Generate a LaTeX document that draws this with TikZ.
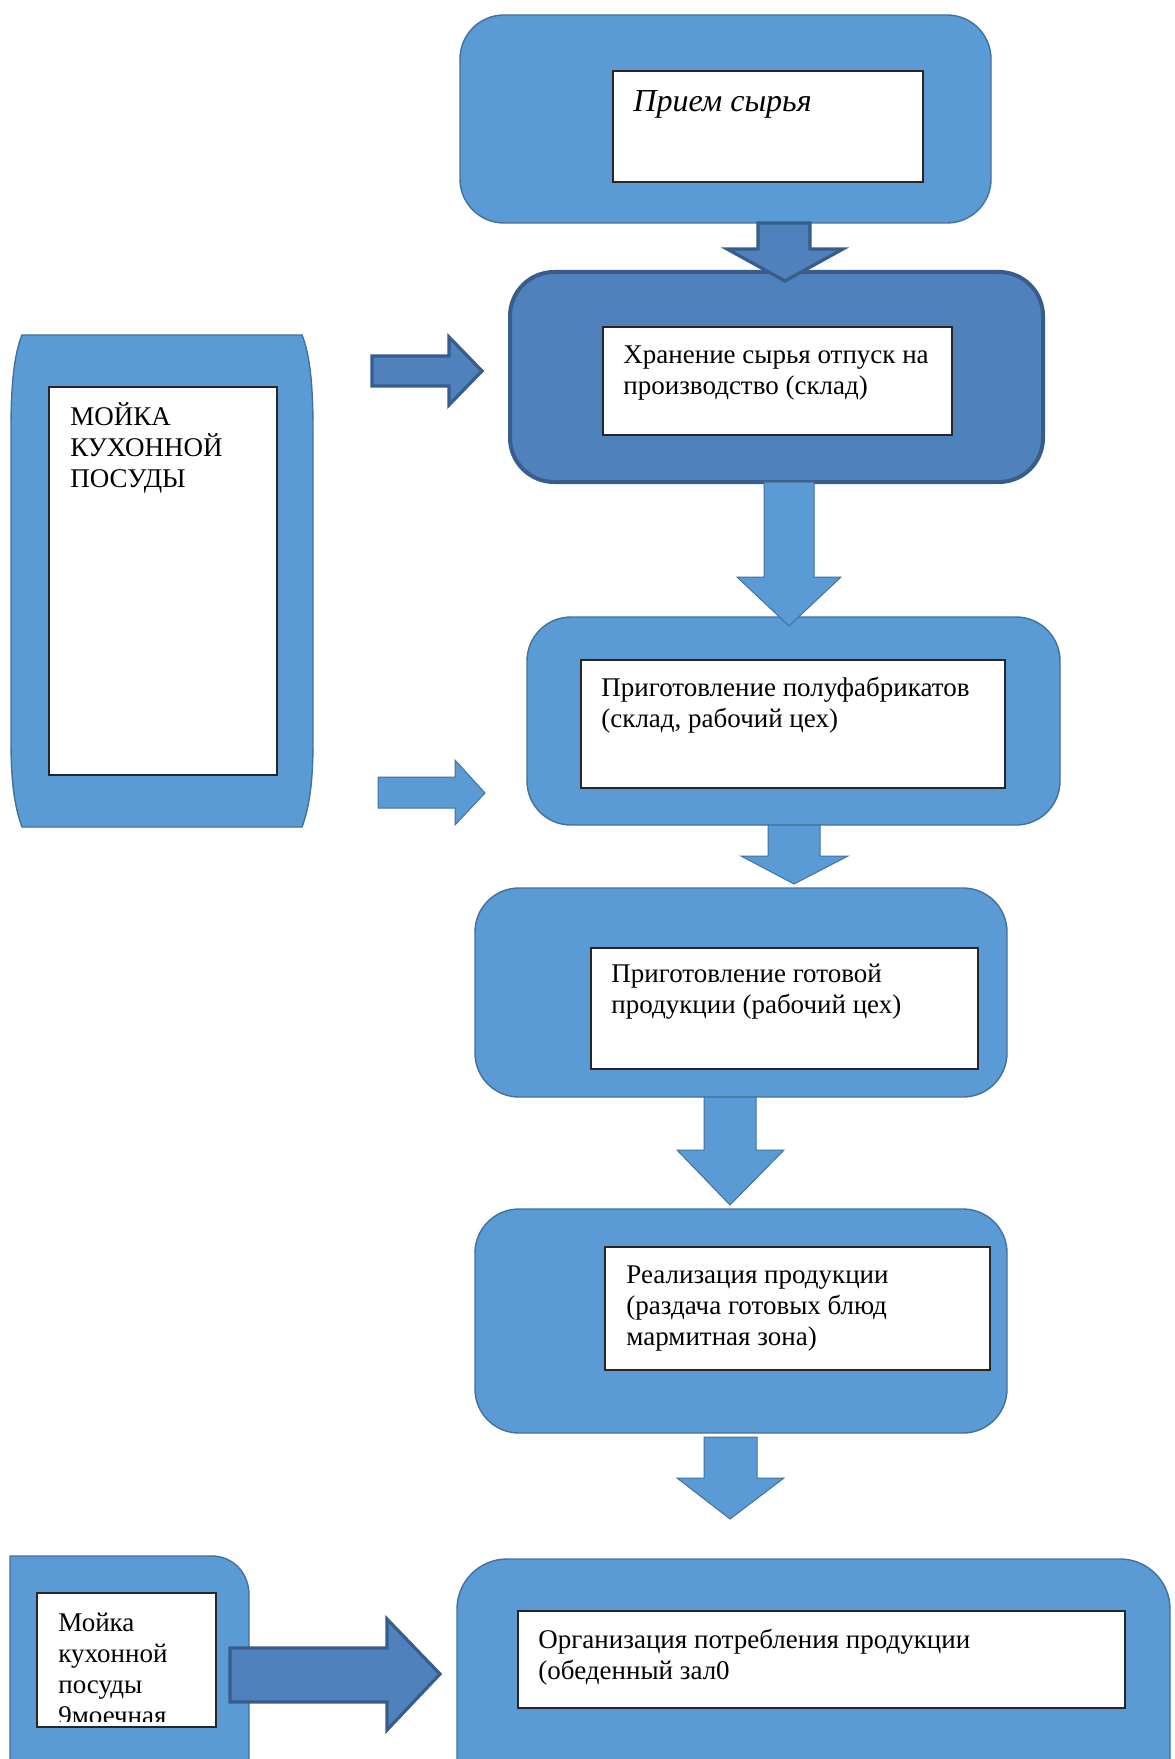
\documentclass[tikz,border=0pt]{standalone}
\usepackage{fontspec}
\setmainfont{Liberation Serif}
\usetikzlibrary{fit}
\definecolor{lb}{HTML}{5B9BD5}
\definecolor{lbd}{HTML}{41719C}
\definecolor{db}{HTML}{4F81BD}
\definecolor{dbd}{HTML}{385D8A}
\newcommand{\tl}{\rule{0pt}{10pt}}
\begin{document}
\begin{tikzpicture}[x=0.5pt,y=-0.5pt,
  lbox/.style={draw=lbd, line width=0.7pt, fill=lb, rounded corners=22pt, inner sep=0pt},
  dbox/.style={draw=dbd, line width=2pt, fill=db, rounded corners=22pt, inner sep=0pt},
  wbox/.style={draw=black!85, line width=0.7pt, fill=white, inner sep=0pt},
  txt/.style={anchor=north west, inner sep=0pt, align=left, font=\fontsize{13.5}{15.5}\selectfont},
  larrow/.style={fill=lb, draw=lbd, line width=0.5pt},
  darrow/.style={fill=db, draw=dbd, line width=1.6pt, line join=miter}]
\clip (0,0) rectangle (1174,1759);
\fill[white] (0,0) rectangle (1174,1759);

% main column boxes
\node[lbox, fit={(460,15) (991,223)}] (b1) {};
\node[wbox, fit={(613,71) (923,182)}] (w1) {};
\node[txt, font=\fontsize{16}{18}\selectfont\itshape] (t1) at (633,90) {\tl Прием сырья};

\node[dbox, fit={(510,272) (1043,482)}] (b2) {};
\node[wbox, fit={(603,327) (952,435)}] (w2) {};
\node[txt] (t2) at (623,343) {\tl Хранение сырья отпуск на\\производство (склад)};

\node[lbox, fit={(527,617) (1060,825)}] (b3) {};
\node[wbox, fit={(581,660) (1005,788)}] (w3) {};
\node[txt] (t3) at (601,676) {\tl Приготовление полуфабрикатов\\(склад, рабочий цех)};

\node[lbox, fit={(475,888) (1007,1097)}] (b4) {};
\node[wbox, fit={(591,948) (978,1069)}] (w4) {};
\node[txt] (t4) at (611,962) {\tl Приготовление готовой\\продукции (рабочий цех)};

\node[lbox, fit={(475,1209) (1007,1433)}] (b5) {};
\node[wbox, fit={(605,1247) (990,1370)}] (w5) {};
\node[txt] (t5) at (626,1263) {\tl Реализация продукции\\(раздача готовых блюд\\мармитная зона)};

\node[lbox, rounded corners=25pt, fit={(457,1559) (1170,1840)}] (b6) {};
\node[wbox, fit={(518,1611) (1125,1708)}] (w6) {};
\node[txt] (t6) at (538,1628) {\tl Организация потребления продукции\\(обеденный зал0};

% left tall box
\draw[fill=lb, draw=lbd, line width=0.7pt]
  (22,335) -- (302,335) .. controls (310,355) and (313,385) .. (313,430)
  -- (313,740) .. controls (313,780) and (310,805) .. (302,827)
  -- (22,827) .. controls (14,805) and (11,780) .. (11,740)
  -- (11,430) .. controls (11,385) and (14,355) .. (22,335) -- cycle;
\node[wbox, fit={(49,387) (277,775)}] (wl) {};
\node[txt] (tl) at (70,402) {\tl МОЙКА\\КУХОННОЙ\\ПОСУДЫ};

% bottom-left box
\draw[fill=lb, draw=lbd, line width=0.7pt]
  (10,1556) -- (212,1556) .. controls (232,1556) and (249,1572) .. (249,1595)
  -- (249,1780) -- (10,1780) -- cycle;
\node[wbox, fit={(37,1593) (216,1727)}] (wbl) {};
\begin{scope}
  \clip (37,1593) rectangle (216,1721);
  \node[txt] (tbl) at (58,1611) {\tl Мойка\\кухонной\\посуды\\9моечная};
\end{scope}

% block arrows
\draw[darrow] (758,223) -- (810,223) -- (810,249) -- (843,249) -- (785,281) -- (727,249) -- (758,249) -- cycle;
\draw[larrow] (764,482) -- (814,482) -- (814,577) -- (841,577) -- (789,626) -- (737,577) -- (764,577) -- cycle;
\draw[larrow] (768,825) -- (820,825) -- (820,856) -- (848,856) -- (794,884) -- (741,856) -- (768,856) -- cycle;
\draw[larrow] (704,1097) -- (756,1097) -- (756,1150) -- (784,1150) -- (730,1205) -- (677,1150) -- (704,1150) -- cycle;
\draw[larrow] (704,1437) -- (757,1437) -- (757,1478) -- (784,1478) -- (730,1519) -- (677,1478) -- (704,1478) -- cycle;

\draw[darrow] (372,356) -- (449,356) -- (449,337) -- (482,371) -- (449,405) -- (449,386) -- (372,386) -- cycle;
\draw[larrow] (378,777) -- (455,777) -- (455,760) -- (485,793) -- (455,825) -- (455,808) -- (378,808) -- cycle;
\draw[darrow] (230,1648) -- (387,1648) -- (387,1619) -- (440,1674) -- (387,1730) -- (387,1702) -- (230,1702) -- cycle;
\end{tikzpicture}
\end{document}
